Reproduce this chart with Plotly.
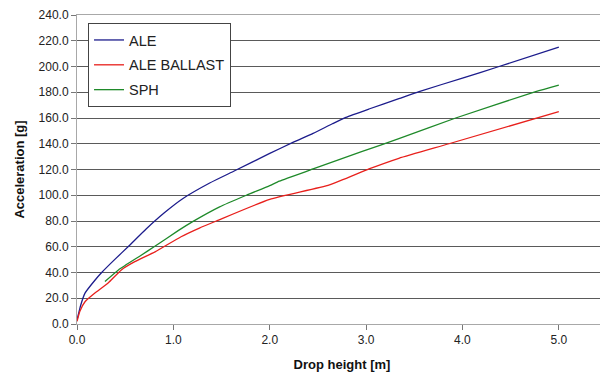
import plotly.graph_objects as go

ale_x = [0, 0.04, 0.083, 0.186, 0.256, 0.39, 0.53, 0.72, 0.9, 1.1, 1.377, 1.636, 2.0, 2.24, 2.45, 2.65, 2.79, 3.03, 3.34, 3.55, 4.0, 4.38, 5.0]
ale_y = [3, 15, 24, 34, 40, 50, 60, 74, 86, 97.5, 109.5, 119, 132.5, 141, 148, 155.5, 160.5, 167, 175, 180.5, 191, 200, 215]

ballast_x = [0, 0.03, 0.083, 0.186, 0.32, 0.46, 0.6, 0.81, 1.08, 1.27, 1.446, 2.0, 2.62, 3.03, 3.34, 3.86, 5.0]
ballast_y = [2, 10, 17.3, 24, 31.6, 42, 48.4, 56, 67.8, 74.5, 80, 96.8, 108, 120.4, 128.7, 140, 165]

sph_x = [0.29, 0.43, 0.67, 0.8, 1.05, 1.2, 1.48, 1.757, 2.0, 2.1, 2.45, 2.96, 3.34, 3.93, 4.76, 5.0]
sph_y = [33, 42, 53.6, 60, 72.5, 79.5, 91, 100, 107.5, 111, 120.4, 134, 144, 160, 180.5, 185.6]

x_ticks = [0, 1, 2, 3, 4, 5]
y_ticks = list(range(0, 241, 20))

fig = go.Figure()
fig.add_trace(go.Scatter(x=ale_x, y=ale_y, mode="lines", name="ALE", legendgroup="a",
                         line=dict(color="#1c1c8c", width=1.3, shape="spline", smoothing=0.5)))
fig.add_trace(go.Scatter(x=ballast_x, y=ballast_y, mode="lines", name="ALE BALLAST", legendgroup="b",
                         line=dict(color="#e8201c", width=1.3, shape="spline", smoothing=0.5)))
fig.add_trace(go.Scatter(x=sph_x, y=sph_y, mode="lines", name="SPH", legendgroup="c",
                         line=dict(color="#1f8a2a", width=1.3, shape="spline", smoothing=0.5)))

font_family = "Liberation Sans, Arial, sans-serif"

fig.update_layout(
    width=600, height=370,
    margin=dict(l=69, r=1, t=7, b=54),
    paper_bgcolor="white", plot_bgcolor="white",
    font=dict(family=font_family, color="#222", size=12),
    showlegend=True,
    legend=dict(x=0.0208, y=0.974, xanchor="left", yanchor="top",
                bgcolor="white", bordercolor="#444", borderwidth=1,
                font=dict(size=14.5, color="#222"), tracegroupgap=3,
                itemwidth=30),
    xaxis=dict(range=[0, 5.5], tickvals=x_ticks, ticktext=[f"{v:.1f}" for v in x_ticks],
               showgrid=False, zeroline=False, showline=True, linecolor="#a8a8a8", linewidth=1,
               mirror=True, ticks="outside", ticklen=5, tickcolor="#777",
               title=dict(text="<b>Drop height [m]</b>", font=dict(size=13, color="#111"), standoff=13)),
    yaxis=dict(range=[0, 240], tickvals=y_ticks, ticktext=[f"{v:.1f}" for v in y_ticks],
               showgrid=True, gridcolor="#5a5a5a", gridwidth=1, zeroline=False,
               showline=True, linecolor="#a8a8a8", linewidth=1, mirror=True,
               ticks="outside", ticklen=5, tickcolor="#777",
               title=dict(text="<b>Acceleration [g]</b>", font=dict(size=13, color="#111"), standoff=11)),
)

fig.write_html("out.html")
